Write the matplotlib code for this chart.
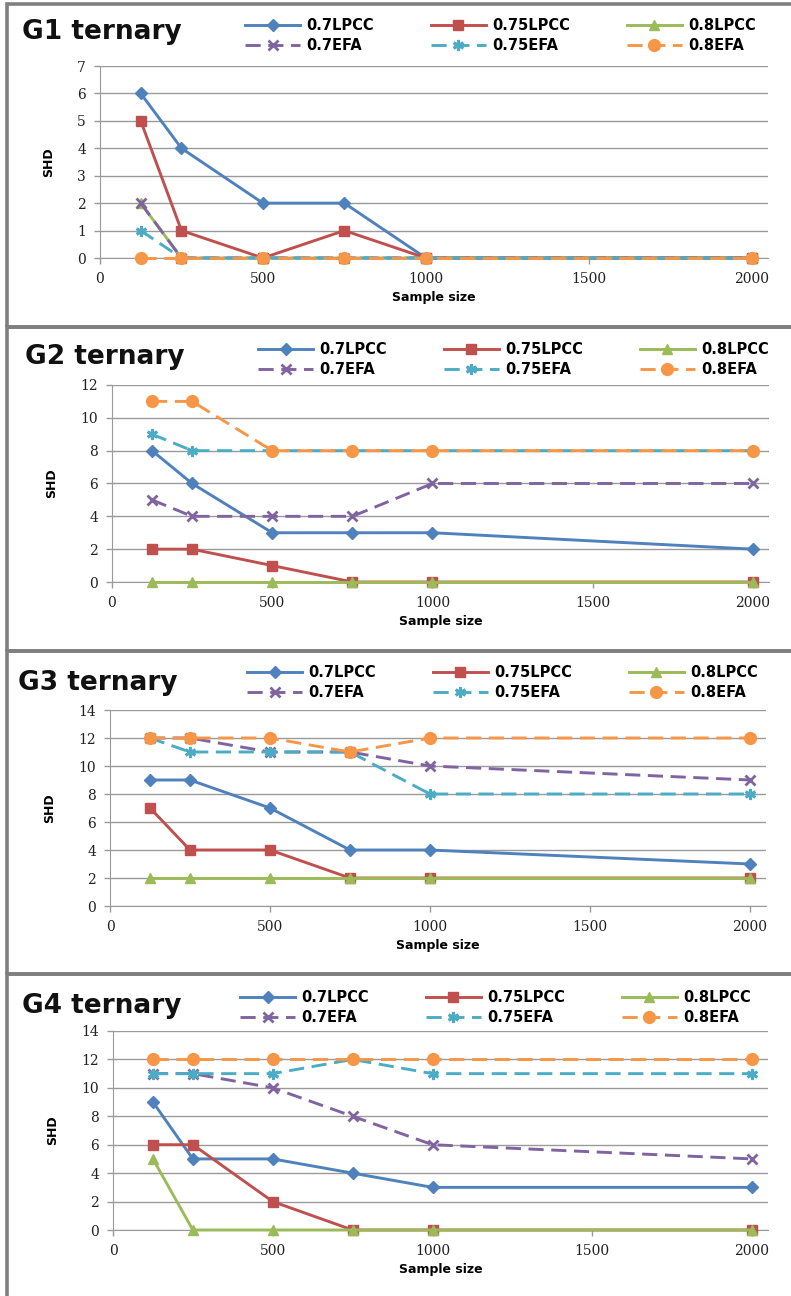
import matplotlib.pyplot as plt
from matplotlib.patches import Rectangle

W, H = 791, 1296

sample_sizes = [125, 250, 500, 750, 1000, 2000]
series_names = ["0.7LPCC", "0.75LPCC", "0.8LPCC", "0.7EFA", "0.75EFA", "0.8EFA"]

# SHD per series (rows follow series_names)
g1_shd = [
    [6, 4, 2, 2, 0, 0],
    [5, 1, 0, 1, 0, 0],
    [2, 0, 0, 0, 0, 0],
    [2, 0, 0, 0, 0, 0],
    [1, 0, 0, 0, 0, 0],
    [0, 0, 0, 0, 0, 0],
]
g2_shd = [
    [8, 6, 3, 3, 3, 2],
    [2, 2, 1, 0, 0, 0],
    [0, 0, 0, 0, 0, 0],
    [5, 4, 4, 4, 6, 6],
    [9, 8, 8, 8, 8, 8],
    [11, 11, 8, 8, 8, 8],
]
g3_shd = [
    [9, 9, 7, 4, 4, 3],
    [7, 4, 4, 2, 2, 2],
    [2, 2, 2, 2, 2, 2],
    [12, 12, 11, 11, 10, 9],
    [12, 11, 11, 11, 8, 8],
    [12, 12, 12, 11, 12, 12],
]
g4_shd = [
    [9, 5, 5, 4, 3, 3],
    [6, 6, 2, 0, 0, 0],
    [5, 0, 0, 0, 0, 0],
    [11, 11, 10, 8, 6, 5],
    [11, 11, 11, 12, 11, 11],
    [12, 12, 12, 12, 12, 12],
]

colors = ["#4F81BD", "#C0504D", "#9BBB59", "#8064A2", "#4BACC6", "#F79646"]
markers = ["D", "s", "^", "x", (6, 2, 0), "o"]
msizes = [6.5, 7.5, 7.5, 7.5, 8, 7.5]
dashed = [False, False, False, True, True, True]

# per panel: title, data, ymax, step, frame (top, bottom), axes box (left, right, top, bottom),
# title position, legend anchor
panels = [
    ("G1 ternary", g1_shd, 7, 1, (4, 327), (100, 768, 66, 258), (22, 39), (245, 18)),
    ("G2 ternary", g2_shd, 12, 2, (327, 651), (112, 769, 385, 582), (25, 364), (258, 342)),
    ("G3 ternary", g3_shd, 14, 2, (651, 974), (110, 766, 710, 906), (18, 690), (247, 665)),
    ("G4 ternary", g4_shd, 14, 2, (974, 1300), (113, 768, 1031, 1230), (22, 1013), (240, 990)),
]

plt.rcParams["font.family"] = ["DejaVu Sans"]

fig = plt.figure(figsize=(W / 100, H / 100), dpi=100)


def fx(x):
    return x / W


def fy(y):
    return 1 - y / H


for title, values, ymax, ystep, frame, box, tpos, lpos in panels:
    # grey frame round each chart
    fig.add_artist(Rectangle((fx(7), fy(frame[1])), fx(800) - fx(7), fy(frame[0]) - fy(frame[1]),
                             transform=fig.transFigure, fill=False,
                             edgecolor="#7F7F7F", linewidth=2.6))

    left, right, top, bottom = box
    ax = fig.add_axes([fx(left), fy(bottom), fx(right) - fx(left), fy(top) - fy(bottom)])

    handles = []
    for i, name in enumerate(series_names):
        line, = ax.plot(
            sample_sizes, values[i],
            color=colors[i], marker=markers[i], markersize=msizes[i],
            markeredgewidth=2 if dashed[i] else 1, markeredgecolor=colors[i],
            linewidth=2.1, linestyle="--" if dashed[i] else "-",
            label=name, clip_on=False, zorder=3 + i,
        )
        if dashed[i]:
            line.set_dashes((5.2, 2.6))
        handles.append(line)

    ax.set_xlim(0, 2050)
    ax.set_ylim(0, ymax)
    ax.set_xticks([0, 500, 1000, 1500, 2000])
    ax.set_yticks(range(0, ymax + 1, ystep))
    ax.grid(axis="y", color="#9A9A9A", linewidth=1)
    ax.set_axisbelow(True)
    for side in ["top", "right"]:
        ax.spines[side].set_visible(False)
    ax.spines["left"].set_color("#9A9A9A")
    ax.spines["bottom"].set_color("#9A9A9A")
    ax.tick_params(colors="#9A9A9A", length=4, width=1, labelcolor="#222222",
                   labelsize=10, pad=6)
    for lab in ax.get_xticklabels() + ax.get_yticklabels():
        lab.set_family("DejaVu Serif")

    ax.set_xlabel("Sample size", fontsize=9, fontweight="bold", labelpad=4)
    ax.set_ylabel("SHD", fontsize=9, fontweight="bold", labelpad=16)

    fig.text(fx(tpos[0]), fy(tpos[1]), title, fontsize=19, fontweight="bold",
             ha="left", va="baseline", color="#111111")

    order = [0, 3, 1, 4, 2, 5]
    leg = ax.legend([handles[k] for k in order], [series_names[k] for k in order],
                    ncol=3, loc="upper left",
                    bbox_to_anchor=(fx(lpos[0]), fy(lpos[1])),
                    bbox_transform=fig.transFigure, frameon=False,
                    borderpad=0, borderaxespad=0, handlelength=3.8,
                    handletextpad=0.4, columnspacing=3.9, labelspacing=0.35,
                    prop={"size": 10.5, "weight": "bold"})

fig.savefig("out.png", dpi=100)
